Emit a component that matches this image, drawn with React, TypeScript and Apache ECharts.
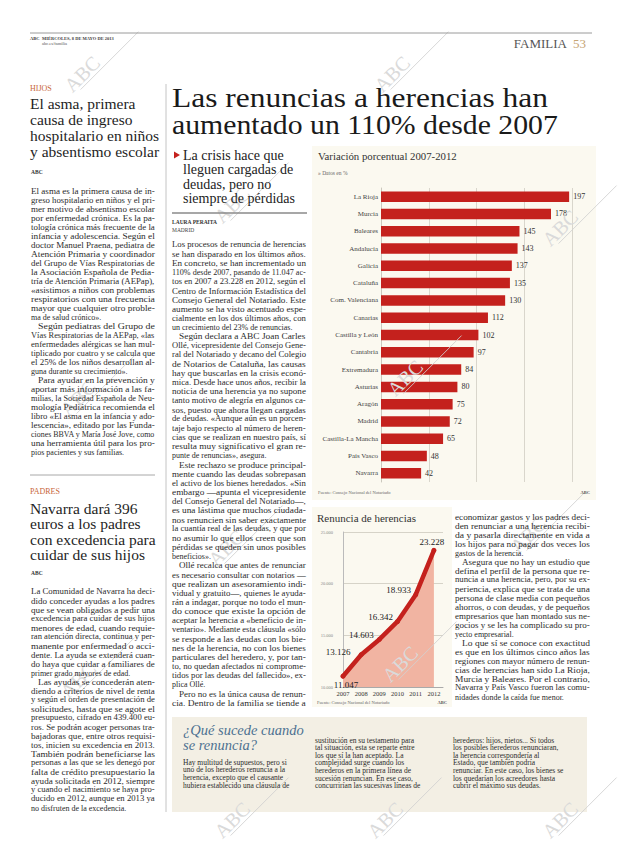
import React, { useEffect, useRef } from "react";
import * as echarts from "echarts";

const FONT = "'Liberation Serif', 'Times New Roman', serif";

// ---------- Bar chart data ----------
const regions = [
  "La Rioja", "Murcia", "Baleares", "Andalucía", "Galicia", "Cataluña",
  "Com. Valenciana", "Canarias", "Castilla y León", "Cantabria", "Extremadura",
  "Asturias", "Aragón", "Madrid", "Castilla-La Mancha", "País Vasco", "Navarra",
];
const variacion = [197, 178, 145, 143, 137, 135, 130, 112, 102, 97, 84, 80, 75, 72, 65, 48, 42];
const barTicks = [0, 50, 100, 150, 200];

// ---------- Line chart data ----------
const years = [2007, 2008, 2009, 2010, 2011, 2012];
const renuncias = [11047, 13126, 14603, 16342, 18933, 23228];
const renunciaTicks = [10000, 15000, 20000, 25000];

// ---------- Article texts ----------
type Para = { lines: string[]; indent: boolean; end: boolean };

const asmaParas: Para[] = [
  { indent: false, end: true, lines: [
    "El asma es la primera causa de in-",
    "greso hospitalario en niños y el pri-",
    "mer motivo de absentismo escolar",
    "por enfermedad crónica. Es la pa-",
    "tología crónica más frecuente de la",
    "infancia y adolescencia. Según el",
    "doctor Manuel Praena, pediatra de",
    "Atención Primaria y coordinador",
    "del Grupo de Vías Respiratorias de",
    "la Asociación Española de Pedia-",
    "tría de Atención Primaria (AEPap),",
    "«asistimos a niños con problemas",
    "respiratorios con una frecuencia",
    "mayor que cualquier otro proble-",
    "ma de salud crónico».",
  ] },
  { indent: true, end: true, lines: [
    "Según pediatras del Grupo de",
    "Vías Respiratorias de la AEPap, «las",
    "enfermedades alérgicas se han mul-",
    "tiplicado por cuatro y se calcula que",
    "el 25% de los niños desarrollan al-",
    "guna durante su crecimiento».",
  ] },
  { indent: true, end: true, lines: [
    "Para ayudar en la prevención y",
    "aportar más información a las fa-",
    "milias, la Sociedad Española de Neu-",
    "mología Pediátrica recomienda el",
    "libro «El asma en la infancia y ado-",
    "lescencia», editado por las Funda-",
    "ciones BBVA y María José Jove, como",
    "una herramienta útil para los pro-",
    "pios pacientes y sus familias.",
  ] },
];

const navarraParas: Para[] = [
  { indent: false, end: true, lines: [
    "La Comunidad de Navarra ha deci-",
    "dido conceder ayudas a los padres",
    "que se vean obligados a pedir una",
    "excedencia para cuidar de sus hijos",
    "menores de edad, cuando requie-",
    "ran atención directa, continua y per-",
    "manente por enfermedad o acci-",
    "dente. La ayuda se extenderá cuan-",
    "do haya que cuidar a familiares de",
    "primer grado mayores de edad.",
  ] },
  { indent: true, end: true, lines: [
    "Las ayudas se concederán aten-",
    "diendo a criterios de nivel de renta",
    "y según el orden de presentación de",
    "solicitudes, hasta que se agote el",
    "presupuesto, cifrado en 439.400 eu-",
    "ros. Se podrán acoger personas tra-",
    "bajadoras que, entre otros requisi-",
    "tos, inicien su excedencia en 2013.",
    "También podrán beneficiarse las",
    "personas a las que se les denegó por",
    "falta de crédito presupuestario la",
    "ayuda solicitada en 2012, siempre",
    "y cuando el nacimiento se haya pro-",
    "ducido en 2012, aunque en 2013 ya",
    "no disfruten de la excedencia.",
  ] },
];

const mainParas: Para[] = [
  { indent: false, end: true, lines: [
    "Los procesos de renuncia de herencias",
    "se han disparado en los últimos años.",
    "En concreto, se han incrementado un",
    "110% desde 2007, pasando de 11.047 ac-",
    "tos en 2007 a 23.228 en 2012, según el",
    "Centro de Información Estadística del",
    "Consejo General del Notariado. Este",
    "aumento se ha visto acentuado espe-",
    "cialmente en los dos últimos años, con",
    "un crecimiento del 23% de renuncias.",
  ] },
  { indent: true, end: true, lines: [
    "Según declara a ABC Joan Carles",
    "Ollé, vicepresidente del Consejo Gene-",
    "ral del Notariado y decano del Colegio",
    "de Notarios de Cataluña, las causas",
    "hay que buscarlas en la crisis econó-",
    "mica. Desde hace unos años, recibir la",
    "noticia de una herencia ya no supone",
    "tanto motivo de alegría en algunos ca-",
    "sos, puesto que ahora llegan cargadas",
    "de deudas. «Aunque aún es un porcen-",
    "taje bajo respecto al número de heren-",
    "cias que se realizan en nuestro país, sí",
    "resulta muy significativo el gran re-",
    "punte de renuncias», asegura.",
  ] },
  { indent: true, end: true, lines: [
    "Este rechazo se produce principal-",
    "mente cuando las deudas sobrepasan",
    "el activo de los bienes heredados. «Sin",
    "embargo —apunta el vicepresidente",
    "del Consejo General del Notariado—,",
    "es una lástima que muchos ciudada-",
    "nos renuncien sin saber exactamente",
    "la cuantía real de las deudas, y que por",
    "no asumir lo que ellos creen que son",
    "pérdidas se queden sin unos posibles",
    "beneficios».",
  ] },
  { indent: true, end: true, lines: [
    "Ollé recalca que antes de renunciar",
    "es necesario consultar con notarios —",
    "que realizan un asesoramiento indi-",
    "vidual y gratuito—, quienes le ayuda-",
    "rán a indagar, porque no todo el mun-",
    "do conoce que existe la opción de",
    "aceptar la herencia a «beneficio de in-",
    "ventario». Mediante esta cláusula «sólo",
    "se responde a las deudas con los bie-",
    "nes de la herencia, no con los bienes",
    "particulares del heredero, y, por tan-",
    "to, no quedan afectados ni comprome-",
    "tidos por las deudas del fallecido», ex-",
    "plica Ollé.",
  ] },
  { indent: true, end: false, lines: [
    "Pero no es la única causa de renun-",
    "cia. Dentro de la familia se tiende a",
  ] },
];

const rightParas: Para[] = [
  { indent: false, end: true, lines: [
    "economizar gastos y los padres deci-",
    "den renunciar a una herencia recibi-",
    "da y pasarla directamente en vida a",
    "los hijos para no pagar dos veces los",
    "gastos de la herencia.",
  ] },
  { indent: true, end: true, lines: [
    "Asegura que no hay un estudio que",
    "defina el perfil de la persona que re-",
    "nuncia a una herencia, pero, por su ex-",
    "periencia, explica que se trata de una",
    "persona de clase media con pequeños",
    "ahorros, o con deudas, y de pequeños",
    "empresarios que han montado sus ne-",
    "gocios y se les ha complicado su pro-",
    "yecto empresarial.",
  ] },
  { indent: true, end: true, lines: [
    "Lo que sí se conoce con exactitud",
    "es que en los últimos cinco años las",
    "regiones con mayor número de renun-",
    "cias de herencias han sido La Rioja,",
    "Murcia y Baleares. Por el contrario,",
    "Navarra y País Vasco fueron las comu-",
    "nidades donde la caída fue menor.",
  ] },
];

const boxTitle = ["¿Qué sucede cuando", "se renuncia?"];
const boxCol1 = [
  "Hay multitud de supuestos, pero si",
  "uno de los herederos renuncia a la",
  "herencia, excepto que el causante",
  "hubiera establecido una cláusula de",
];
const boxCol2 = [
  "sustitución en su testamento para",
  "tal situación, esta se reparte entre",
  "los que sí la han aceptado. La",
  "complejidad surge cuando los",
  "herederos en la primera línea de",
  "sucesión renuncian. En ese caso,",
  "concurrirían las sucesivas líneas de",
];
const boxCol3 = [
  "herederos: hijos, nietos... Si todos",
  "los posibles herederos renunciaran,",
  "la herencia correspondería al",
  "Estado, que también podría",
  "renunciar. En este caso, los bienes se",
  "los quedarían los acreedores hasta",
  "cubrir el máximo sus deudas.",
];

const mainHeadline = ["Las renuncias a herencias han", "aumentado un 110% desde 2007"];
const asmaHeadline = ["El asma, primera", "causa de ingreso", "hospitalario en niños", "y absentismo escolar"];
const navarraHeadline = ["Navarra dará 396", "euros a los padres", "con excedencia para", "cuidar de sus hijos"];
const subHeadline = ["La crisis hace que", "lleguen cargadas de", "deudas, pero no", "siempre de pérdidas"];

// layout only: label offsets for line-chart values
const lineLabelOffsets = [[3, 9], [-23, -3], [-18, -4], [-17, -4], [-17, -5], [-2, -8]];
const watermarkSpots = [
  [82, 74], [392, 74], [232, 205], [560, 228], [78, 398], [405, 378],
  [226, 548], [78, 680], [400, 664], [528, 535], [232, 820], [385, 820], [560, 820],
];

const thousands = (v: number) => String(Math.round(v)).replace(/\B(?=(\d{3})+(?!\d))/g, ".");

export default function App() {
  const ref = useRef<HTMLDivElement>(null);

  useEffect(() => {
    if (!ref.current) return;
    const chart = echarts.init(ref.current, null, { renderer: "svg", width: 620, height: 846 });

    const canvas = document.createElement("canvas");
    const ctx = canvas.getContext("2d")!;
    const measure = (text: string, font: string) => {
      ctx.font = font;
      return ctx.measureText(text).width || 1;
    };
    const fontOf = (size: number, weight = "normal", italic = false) =>
      `${italic ? "italic " : ""}${weight} ${size}px ${FONT}`;

    const txt = (
      text: string, x: number, y: number, size: number,
      o: { color?: string; weight?: string; italic?: boolean; align?: string; fit?: number; z?: number } = {}
    ) => {
      const font = fontOf(size, o.weight || "normal", !!o.italic);
      const scaleX = o.fit ? o.fit / measure(text, font) : 1;
      return {
        type: "text", x, y, scaleX, z: o.z ?? 50, silent: true,
        style: {
          text, font, fill: o.color || "#222",
          textAlign: o.align || "left", align: o.align || "left",
          textVerticalAlign: "middle", verticalAlign: "middle",
        },
      };
    };

    const column = (paras: Para[], x: number, width: number, y0: number, lh: number) => {
      const font = fontOf(8);
      const out: any[] = [];
      let y = y0;
      paras.forEach((p) => {
        p.lines.forEach((line, i) => {
          const ind = i === 0 && p.indent ? 7 : 0;
          const avail = width - ind;
          const w = measure(line, font);
          const last = i === p.lines.length - 1 && p.end;
          let s = last ? Math.min(1, avail / w) : avail / w;
          s = Math.max(0.75, Math.min(1.25, s));
          out.push({
            type: "text", x: x + ind, y, scaleX: s, z: 50, silent: true,
            style: { text: line, font, fill: "#2b2b2b", textAlign: "left", align: "left", textVerticalAlign: "middle", verticalAlign: "middle" },
          });
          y += lh;
        });
      });
      return out;
    };

    const line = (x1: number, y1: number, x2: number, y2: number, stroke: string, lineWidth = 1, z = 45) => ({
      type: "line", z, silent: true, shape: { x1, y1, x2, y2 }, style: { stroke, lineWidth },
    });
    const rect = (x: number, y: number, width: number, height: number, fill: string) => ({
      type: "rect", z: -10, silent: true, shape: { x, y, width, height }, style: { fill },
    });

    const elements: any[] = [];
    // backgrounds
    elements.push(rect(312, 146, 284, 354, "#fbf9f0"));
    elements.push(rect(312, 507, 140, 200, "#fbf9f0"));
    elements.push(rect(172, 717, 415, 95, "#f3efe4"));

    // watermarks
    watermarkSpots.forEach(([x, y]) => {
      elements.push({
        type: "group", x, y, rotation: Math.PI / 4, z: 40, silent: true,
        children: [
          { type: "text", z: 40, style: { text: "ABC", font: fontOf(20), fill: "#dadada", textAlign: "center", align: "center", textVerticalAlign: "middle", verticalAlign: "middle" } },
          { type: "line", z: 40, shape: { x1: -12, y1: 10, x2: 70, y2: 10 }, style: { stroke: "#d0d0d0", lineWidth: 0.8 } },
        ],
      });
    });

    // header
    elements.push(line(30, 33, 592, 33, "#9a9a9a", 1));
    elements.push(txt("ABC", 30, 38.5, 4.5, { weight: "bold", color: "#333" }));
    elements.push(txt("MIÉRCOLES, 8 DE MAYO DE 2013", 42, 38.5, 4.5, { weight: "bold", color: "#444" }));
    elements.push(txt("abc.es/familia", 42, 43.5, 4.5, { color: "#555" }));
    elements.push(txt("FAMILIA", 567, 43, 13, { color: "#555", align: "right" }));
    elements.push(txt("53", 573, 43, 13, { color: "#c7a574" }));

    // vertical rule
    elements.push(line(166, 84, 166, 812, "#b5b5b5", 0.8));

    // left column: article 1
    elements.push(txt("HIJOS", 30, 88, 8, { color: "#c8663a" }));
    asmaHeadline.forEach((h, i) => elements.push(txt(h, 30, 103 + i * 16, 15.5, { color: "#1e1e1e" })));
    elements.push(txt("ABC", 31, 172, 5.5, { weight: "bold", color: "#333" }));
    elements.push(...column(asmaParas, 31, 124, 191.5, 9.0));
    elements.push(line(30, 475, 155, 475, "#a8a8a8", 1));

    // left column: article 2
    elements.push(txt("PADRES", 30, 491, 8, { color: "#c8663a" }));
    navarraHeadline.forEach((h, i) => elements.push(txt(h, 30, 508 + i * 15.5, 15.5, { color: "#1e1e1e" })));
    elements.push(txt("ABC", 31, 573, 5.5, { weight: "bold", color: "#333" }));
    elements.push(...column(navarraParas, 31, 124, 592, 9.0));

    // main headline
    elements.push(txt(mainHeadline[0], 172, 97, 28, { color: "#1a1a1a", fit: 376 }));
    elements.push(txt(mainHeadline[1], 172, 124, 28, { color: "#1a1a1a", fit: 386 }));

    // sub headline
    elements.push({ type: "polygon", z: 50, silent: true, shape: { points: [[174, 151.5], [174, 158.5], [180, 155]] }, style: { fill: "#c4211d" } });
    subHeadline.forEach((h, i) => elements.push(txt(h, 183, 155 + i * 14.5, 14, { color: "#222" })));
    elements.push(line(172, 213, 307, 213, "#8a8a8a", 1.5));
    elements.push(txt("LAURA PERAITA", 172, 221.5, 5.5, { weight: "bold", color: "#333" }));
    elements.push(txt("MADRID", 172, 230, 5.5, { color: "#444" }));
    elements.push(...column(mainParas, 172, 134, 245, 9.16));

    // right column
    elements.push(...column(rightParas, 455, 135, 517, 9.0));

    // bar chart texts
    elements.push(txt("Variación porcentual 2007-2012", 318, 157, 10.5, { color: "#333", fit: 139 }));
    elements.push(txt("» Datos en %", 318, 172.5, 5.5, { color: "#666" }));
    elements.push(txt("Fuente: Consejo Nacional del Notariado", 318, 492, 4.5, { color: "#666" }));
    elements.push(txt("ABC", 590, 492, 4.5, { color: "#555", align: "right", weight: "bold" }));

    // line chart texts
    elements.push(txt("Renuncia de herencias", 317, 518, 11, { color: "#333", fit: 99 }));
    elements.push(txt("Fuente: Consejo Nacional del Notariado", 317, 702, 4.5, { color: "#666" }));
    elements.push(txt("ABC", 447, 702, 4.5, { color: "#555", align: "right", weight: "bold" }));

    // box
    boxTitle.forEach((h, i) => elements.push(txt(h, 183, 730 + i * 15, 14.5, { color: "#4d7191", italic: true })));
    boxCol1.forEach((l, i) => elements.push(txt(l, 183, 762 + i * 7.8, 7.5, { color: "#2b2b2b" })));
    boxCol2.forEach((l, i) => elements.push(txt(l, 315, 740 + i * 7.6, 7.5, { color: "#2b2b2b" })));
    boxCol3.forEach((l, i) => elements.push(txt(l, 453, 740 + i * 7.6, 7.5, { color: "#2b2b2b" })));

    const option: any = {
      animation: false,
      backgroundColor: "#ffffff",
      grid: [
        { left: 381, top: 188, width: 191, height: 294 },
        { left: 343, top: 532, width: 100, height: 155 },
      ],
      xAxis: [
        {
          gridIndex: 0, type: "value",
          min: barTicks[0], max: barTicks[barTicks.length - 1], interval: barTicks[1] - barTicks[0],
          axisLabel: { show: false }, axisLine: { show: false }, axisTick: { show: false },
          splitLine: { show: true, lineStyle: { color: "#d9d6cc", width: 1 } },
        },
        {
          gridIndex: 1, type: "value", min: years[0], max: years[years.length - 1] + 0.5, interval: 1,
          axisLabel: {
            formatter: (v: number) => (Number.isInteger(v) && v <= years[years.length - 1] ? String(v) : ""),
            fontSize: 6.5, color: "#333", fontFamily: FONT, margin: 3,
          },
          axisLine: { show: true, lineStyle: { color: "#aaa" } },
          axisTick: { show: false }, splitLine: { show: false },
        },
      ],
      yAxis: [
        {
          gridIndex: 0, type: "category", data: regions, inverse: true,
          axisLine: { show: true, lineStyle: { color: "#cbc8bd" } }, axisTick: { show: false },
          axisLabel: { fontSize: 7, color: "#444", fontFamily: FONT, margin: 3 },
        },
        {
          gridIndex: 1, type: "value",
          min: renunciaTicks[0], max: renunciaTicks[renunciaTicks.length - 1], interval: renunciaTicks[1] - renunciaTicks[0],
          axisLabel: { formatter: (v: number) => thousands(v), fontSize: 4.5, color: "#888", fontFamily: FONT, margin: 10 },
          axisLine: { show: true, lineStyle: { color: "#bbb" } }, axisTick: { show: false },
          splitLine: { show: true, lineStyle: { color: "#d6d3c8" } },
        },
      ],
      series: [
        {
          type: "bar", xAxisIndex: 0, yAxisIndex: 0, data: variacion, barWidth: 10.5,
          itemStyle: { color: "#c4211d" },
          label: { show: true, position: "right", distance: 4, fontSize: 8, fontFamily: FONT, color: "#333" },
        },
        {
          type: "line", xAxisIndex: 1, yAxisIndex: 1,
          data: years.map((y, i) => ({ value: [y, renuncias[i]], label: { offset: lineLabelOffsets[i] } })),
          lineStyle: { color: "#c4211d", width: 4.5, cap: "round", join: "round" },
          symbol: "circle", symbolSize: 5, itemStyle: { color: "#c4211d" },
          areaStyle: { color: "#f1b4a2", opacity: 1 },
          label: {
            show: true, position: "inside", fontSize: 9, fontFamily: FONT, color: "#222",
            formatter: (p: any) => thousands(p.value[1]),
          },
        },
      ],
      graphic: { elements },
    };

    chart.setOption(option);
    return () => chart.dispose();
  }, []);

  return (
    <div
      ref={ref}
      style={{ position: "absolute", left: 0, top: 0, width: 620, height: 846, background: "#fff" }}
    />
  );
}
